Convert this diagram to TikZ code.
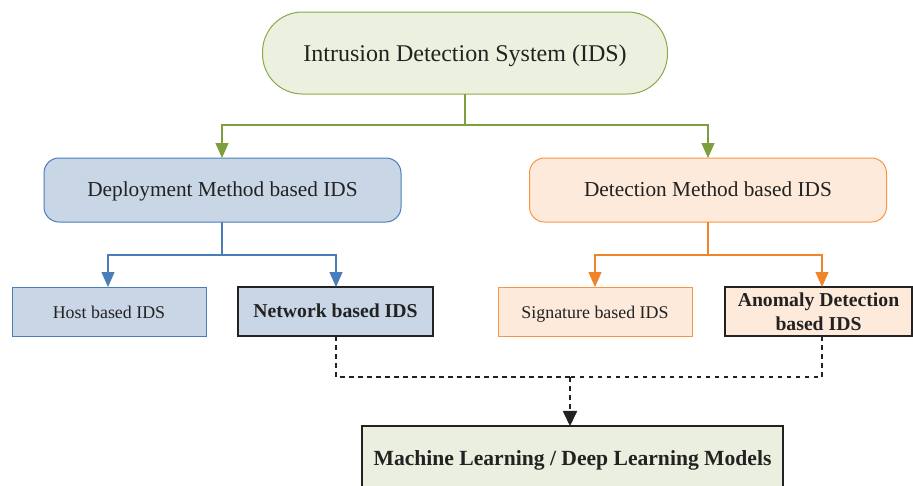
\documentclass[tikz,border=0pt]{standalone}
\usepackage{fontspec}
\setmainfont{Liberation Serif}
\usetikzlibrary{arrows.meta}
\definecolor{gbord}{HTML}{8AAA4A}
\definecolor{gfill}{HTML}{EBF1DE}
\definecolor{garr}{HTML}{7E9F3E}
\definecolor{bbord}{HTML}{4A7EBB}
\definecolor{bfill}{HTML}{C8D6E6}
\definecolor{obord}{HTML}{F79646}
\definecolor{ofill}{HTML}{FDEADA}
\definecolor{oarr}{HTML}{F0842A}
\definecolor{mlfill}{HTML}{EBEFDF}
\definecolor{dark}{HTML}{222222}
\tikzset{
  every node/.style={inner sep=0pt, outer sep=0pt, text=dark},
  topbox/.style={draw=gbord, fill=gfill, line width=1pt, rounded corners=40pt, minimum width=405pt, minimum height=82pt, text height=16pt, text depth=0pt, font=\fontsize{24}{28}\selectfont},
  midbox/.style={line width=1pt, rounded corners=15pt, minimum width=357pt, minimum height=64pt, text height=13.4pt, text depth=0pt, font=\fontsize{21.3}{25}\selectfont},
  leafbox/.style={line width=1pt, minimum width=194pt, minimum height=49pt, text height=13.5pt, text depth=0pt, font=\fontsize{17.9}{21}\selectfont},
  boldleaf/.style={draw=dark, line width=1.2pt, minimum height=49pt, font=\bfseries\fontsize{19.7}{24}\selectfont, align=center},
  conn/.style={line width=1.2pt, -{Triangle[width=13pt,length=15pt]}},
  dconn/.style={line width=1.3pt, dash pattern=on 4.5pt off 4.5pt, draw=dark},
}
\begin{document}
\begin{tikzpicture}[x=1pt,y=-1pt]
\useasboundingbox (0,0) rectangle (913,485);
\node[topbox] (ids) at (465,53) {Intrusion Detection System (IDS)};
\node[midbox, draw=bbord, fill=bfill] (dep) at (222.5,190) {Deployment Method based IDS};
\node[midbox, draw=obord, fill=ofill] (det) at (708,190) {Detection Method based IDS};
\node[leafbox, draw=bbord, fill=bfill] (host) at (109,311.5) {Host based IDS};
\node[boldleaf, fill=bfill, minimum width=195pt, text height=12pt, text depth=0pt] (net) at (335.5,311.5) {Network based IDS};
\node[leafbox, draw=obord, fill=ofill] (sig) at (595,311.5) {Signature based IDS};
\node[boldleaf, fill=ofill, minimum width=187pt] (ano) at (818.5,311.5) {Anomaly Detection\\based IDS};
\path[draw=dark, line width=1.2pt, fill=mlfill] (362,490) -- (362,426) -- (783,426) -- (783,490);
\node[font=\bfseries\fontsize{21.6}{25}\selectfont, anchor=base] (ml) at (572.5,465) {Machine Learning / Deep Learning Models};
% green
\coordinate (gj) at (465,125);
\draw[conn, draw=garr] (ids.south) -- (gj) -| (dep.north -| 222,0);
\draw[conn, draw=garr] (gj) -| (det.north);
% blue
\coordinate (bj) at (222,255);
\draw[conn, draw=bbord] (dep.south -| bj) -- (bj) -| (host.north -| 108,0);
\draw[conn, draw=bbord] (bj) -| (net.north -| 336,0);
% orange
\coordinate (oj) at (708,255);
\draw[conn, draw=oarr] (det.south) -- (oj) -| (sig.north);
\draw[conn, draw=oarr] (oj) -| (ano.north -| 822,0);
% dashed
\coordinate (dj) at (570,377);
\draw[dconn] (net.south -| 336,0) |- (dj);
\draw[dconn] (ano.south -| 822,0) |- (dj);
\draw[dconn] (dj) -- (570,411);
\draw[draw=dark, fill=dark] (563,411) -- (577,411) -- (570,425.5) -- cycle;
\end{tikzpicture}
\end{document}
